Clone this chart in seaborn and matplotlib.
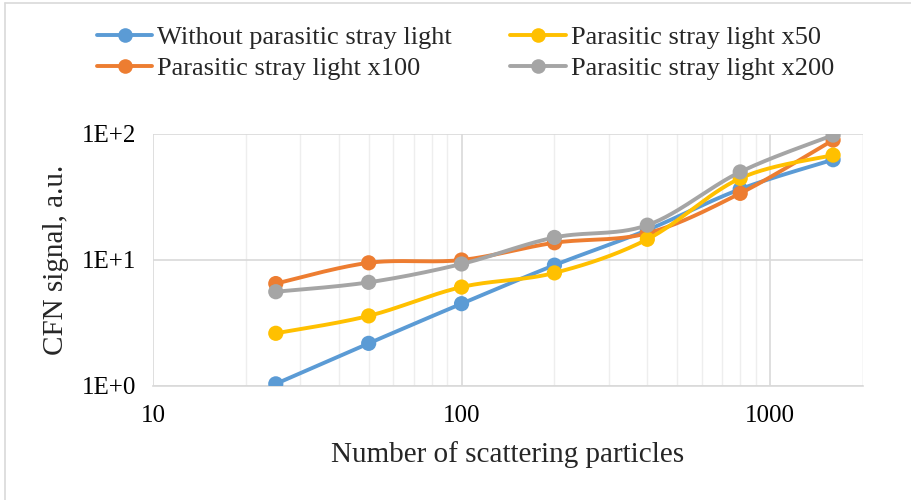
import numpy as np
import pandas as pd
import matplotlib
matplotlib.use("Agg")
import matplotlib.pyplot as plt
from matplotlib.lines import Line2D
from matplotlib.ticker import FixedLocator, LogLocator, NullFormatter, FixedFormatter
import seaborn as sns

# Number of scattering particles
particles = [25, 50, 100, 200, 400, 800, 1600]

# CFN signal, a.u.
without_stray = [1.04, 2.18, 4.5, 9.1, 17.3, 36.5, 62.5]
stray_x50 = [2.62, 3.6, 6.1, 7.9, 14.6, 44.5, 68.0]
stray_x100 = [6.5, 9.5, 10.0, 13.7, 16.3, 33.8, 89.5]
stray_x200 = [5.6, 6.65, 9.3, 15.1, 18.9, 50.0, 98.0]

series_names = [
    "Without parasitic stray light",
    "Parasitic stray light x100",
    "Parasitic stray light x50",
    "Parasitic stray light x200",
]
series_values = [without_stray, stray_x100, stray_x50, stray_x200]
colors = ["#5B9BD5", "#ED7D31", "#FFC000", "#A5A5A5"]
z_order = [3, 4, 5, 6]

y_tick_values = [1, 10, 100]
y_tick_labels = ["1E+0", "1E+1", "1E+2"]
x_tick_values = [10, 100, 1000]
x_tick_labels = ["10", "100", "1000"]


def smooth_curve(xs, ys, steps=30):
    """Bezier smoothing (Catmull-Rom style) in log-log space."""
    lx = np.log10(np.asarray(xs, float))
    ly = np.log10(np.asarray(ys, float))
    n = len(lx)
    px, py = [], []
    for i in range(n - 1):
        i0 = max(i - 1, 0)
        i3 = min(i + 2, n - 1)
        p0 = np.array([lx[i], ly[i]])
        p3 = np.array([lx[i + 1], ly[i + 1]])
        c1 = p0 + (np.array([lx[i + 1], ly[i + 1]]) - np.array([lx[i0], ly[i0]])) / 6.0
        c2 = p3 - (np.array([lx[i3], ly[i3]]) - np.array([lx[i], ly[i]])) / 6.0
        t = np.linspace(0, 1, steps, endpoint=(i == n - 2))[:, None]
        pts = ((1 - t) ** 3) * p0 + 3 * ((1 - t) ** 2) * t * c1 + 3 * (1 - t) * t ** 2 * c2 + t ** 3 * p3
        px.extend(pts[:, 0])
        py.extend(pts[:, 1])
    return 10 ** np.array(px), 10 ** np.array(py)


sns.set_theme(style="white")
plt.rcParams["font.family"] = ["Liberation Serif", "DejaVu Serif"]

W, H = 911, 500
fig = plt.figure(figsize=(W / 100, H / 100), dpi=100)
ax = fig.add_axes([153 / W, 1 - 386 / H, (863 - 153) / W, (386 - 134) / H])

ax.set_xscale("log")
ax.set_yscale("log")
ax.set_xlim(10, 2000)
ax.set_ylim(1, 100)

for name, vals, col, z in zip(series_names, series_values, colors, z_order):
    cx, cy = smooth_curve(particles, vals)
    curve = pd.DataFrame({"x": cx, "y": cy})
    sns.lineplot(data=curve, x="x", y="y", sort=False, color=col, linewidth=2.8,
                 ax=ax, zorder=z, legend=False)
    pts = pd.DataFrame({"x": particles, "y": vals})
    sns.scatterplot(data=pts, x="x", y="y", color=col, s=120, edgecolor="none",
                    ax=ax, zorder=z + 0.5, legend=False)

# grid
ax.xaxis.set_major_locator(FixedLocator(x_tick_values))
ax.xaxis.set_major_formatter(FixedFormatter(x_tick_labels))
ax.xaxis.set_minor_locator(LogLocator(base=10, subs=np.arange(2, 10)))
ax.xaxis.set_minor_formatter(NullFormatter())
ax.yaxis.set_major_locator(FixedLocator(y_tick_values))
ax.yaxis.set_major_formatter(FixedFormatter(y_tick_labels))
ax.yaxis.set_minor_locator(FixedLocator([]))
ax.grid(True, which="major", axis="both", color="#D9D9D9", linewidth=1.2)
ax.grid(True, which="minor", axis="x", color="#EEEEEE", linewidth=1.0)
ax.set_axisbelow(True)
ax.axvline(2000, color="#E6E6E6", linewidth=1.0, zorder=0)

for side in ["top", "right", "left"]:
    ax.spines[side].set_visible(False)
ax.spines["bottom"].set_color("#D9D9D9")
ax.spines["bottom"].set_linewidth(1.2)

ax.tick_params(axis="both", which="both", length=0, labelsize=18, colors="black")
ax.tick_params(axis="y", pad=12)
ax.tick_params(axis="x", pad=14)

ax.set_xlabel("Number of scattering particles", fontsize=21, labelpad=10)
ax.set_ylabel("CFN signal, a.u.", fontsize=21, labelpad=9)

handles = [
    Line2D([0], [0], color=c, linewidth=2.8, marker="o", markersize=10.5, markeredgewidth=0)
    for c in colors
]
fig.legend(handles, series_names, loc="center", bbox_to_anchor=(0.511, 1 - 53 / H),
           ncol=2, frameon=False, fontsize=19, handlelength=2.1, handletextpad=0.2,
           columnspacing=2.2, labelspacing=0.3)

# chart-area border (top and left edges)
fig.add_artist(Line2D([4.5 / W, 1.0], [1 - 2.5 / H, 1 - 2.5 / H], transform=fig.transFigure,
                      color="#D9D9D9", linewidth=1.2))
fig.add_artist(Line2D([4.5 / W, 4.5 / W], [0.0, 1 - 2.5 / H], transform=fig.transFigure,
                      color="#D9D9D9", linewidth=1.2))

fig.savefig("out.png", dpi=100)
